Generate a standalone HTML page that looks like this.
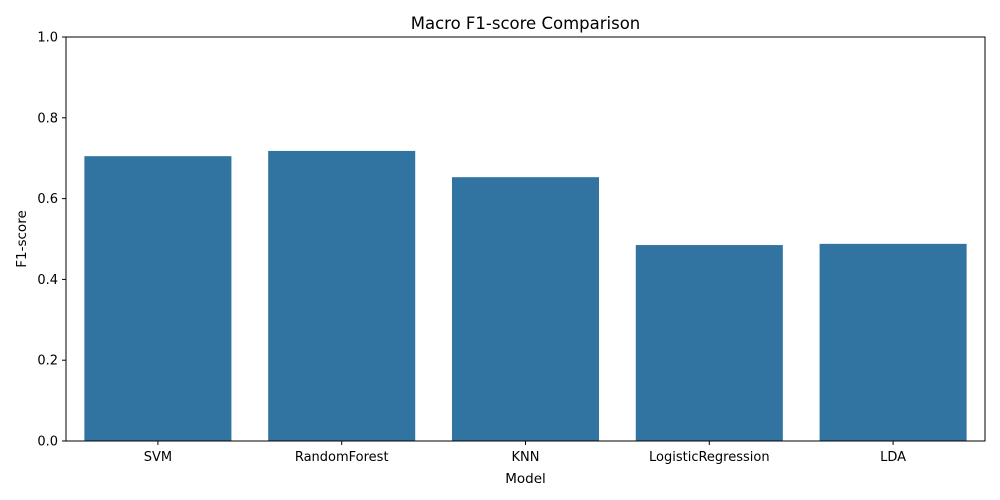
<!DOCTYPE html>
<html><head><meta charset="utf-8"><style>
body{margin:0;background:#fff;}
svg{display:block;font-family:"DejaVu Sans","Liberation Sans",sans-serif;}
</style></head><body>
<svg id="chart" width="1000" height="500" viewBox="0 0 1000 500">
<text x="525.5" y="29" text-anchor="middle" font-size="16.5" fill="#000">Macro F1-score Comparison</text>
<g id="bars"></g>
<g id="axes"></g>
<text x="525.5" y="483" text-anchor="middle" font-size="13.5">Model</text>
<text transform="translate(26,239) rotate(-90)" text-anchor="middle" font-size="13.5">F1-score</text>
</svg>
<script>
const categories = ["SVM","RandomForest","KNN","LogisticRegression","LDA"];
const values = [0.705,0.718,0.653,0.485,0.488];
const yTicks = [0,0.2,0.4,0.6,0.8,1.0];
const yTickLabels = ["0.0","0.2","0.4","0.6","0.8","1.0"];

const L=66,R=985,T=37,B=441;
const NS="http://www.w3.org/2000/svg";
const step=(R-L)/categories.length;
function xC(i){return L+step*(i+0.5);}
function y(v){return B-(B-T)*v;}
const bars=document.getElementById('bars');
const axes=document.getElementById('axes');
function mk(tag,attrs,parent){const e=document.createElementNS(NS,tag);for(const k in attrs)e.setAttribute(k,attrs[k]);parent.appendChild(e);return e;}
categories.forEach((c,i)=>{
  const w=step*0.8;
  const r=mk('rect',{x:xC(i)-w/2,y:y(values[i]),width:w,height:B-y(values[i]),fill:'#3274a1'},bars);
  
  
  const tk=mk('line',{x1:xC(i),x2:xC(i),y1:B,y2:B+4,stroke:'#000','stroke-width':1},axes);
  
  
  const t=mk('text',{x:xC(i),y:B+20,'text-anchor':'middle','font-size':13},axes);
  t.textContent=c;
  
  
});
yTicks.forEach((v,i)=>{
  const tk=mk('line',{x1:L-4,x2:L,y1:y(v),y2:y(v),stroke:'#000','stroke-width':1},axes);
  
  
  const t=mk('text',{x:L-8,y:y(v)+4.5,'text-anchor':'end','font-size':13},axes);
  t.textContent=yTickLabels[i];
  
  
});
const frame=mk('rect',{x:L,y:T,width:R-L,height:B-T,fill:'none',stroke:'#000','stroke-width':1},axes);


</script>
</body></html>
